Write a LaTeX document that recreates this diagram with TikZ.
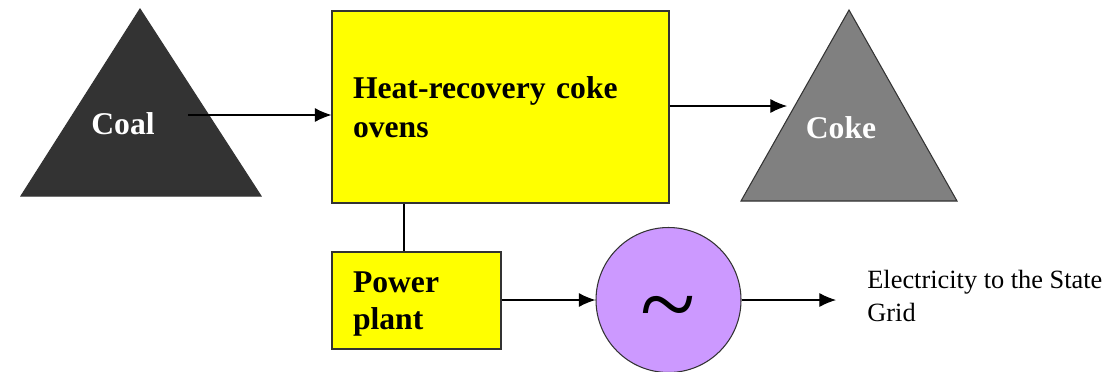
\documentclass[tikz,border=0pt]{standalone}
\usepackage{fontspec}
\setmainfont{Liberation Serif}
\usepackage{tikz}
\usetikzlibrary{shapes.geometric, arrows.meta, positioning}
\definecolor{ovenyellow}{RGB}{255,255,0}
\definecolor{coaldark}{RGB}{51,51,51}
\definecolor{cokegray}{RGB}{128,128,128}
\definecolor{genviolet}{RGB}{204,153,255}

\begin{document}
\begin{tikzpicture}[
  x=0.2mm, y=-0.2mm,
  unit/.style={rectangle, draw=black!80, line width=0.6pt, fill=ovenyellow, align=left, inner xsep=0.42cm, font=\fontsize{18}{22.5}\selectfont\bfseries},
  heap/.style={draw=black!80, line width=0.6pt},
  heaplabel/.style={font=\fontsize{18}{22}\selectfont\bfseries, text=white},
  generator/.style={circle, draw=black!80, line width=0.6pt, fill=genviolet, minimum size=2.9cm, inner sep=0pt},
  arrow/.style={-{Latex[length=9.5pt,width=8pt]}, line width=0.6pt},
  link/.style={line width=0.6pt}
]
\useasboundingbox (0,0) rectangle (1109,371);

% coal and coke heaps
\draw[heap, fill=coaldark] (140,9) -- (261,196) -- (21,196) -- cycle;
\draw[heap, fill=cokegray] (849,10) -- (957,201) -- (741,201) -- cycle;
\node[heaplabel] (coal) at (123,124) {Coal};
\node[heaplabel] (coke) at (841,128) {Coke};

\node[unit, minimum width=6.74cm, minimum height=3.84cm, text width=5.9cm] (ovens) at (500.5,107) {Heat-recovery coke\\ovens};
\node[unit, minimum width=3.38cm, minimum height=1.94cm, text width=2.54cm, font=\fontsize{18}{21}\selectfont\bfseries] (plant) at (416.5,300.5) {\rule{0pt}{16pt}Power\\plant};
\node[generator, font=\fontsize{58}{58}\selectfont, text height=44pt, text depth=0pt] (gen) at (668.5,300) {\textasciitilde};
\node[anchor=west, inner sep=0pt, align=left, font=\fontsize{15}{18.7}\selectfont] (grid) at (867,296) {Electricity to the State\\Grid};

\coordinate (coalout) at (188,115);
\coordinate (cokein) at (787,106);
\coordinate (tap) at (404,0);
\coordinate (gridin) at (836,300);

\draw[arrow] (coalout) -- (coalout -| ovens.west);
\draw[arrow] (ovens.east |- cokein) -- (cokein);
\draw[link] (ovens.south -| tap) -- (plant.north -| tap);
\draw[arrow] (plant.east |- gen.west) -- (gen.west);
\draw[arrow] (gen.east) -- (gen.east -| gridin);
\end{tikzpicture}
\end{document}
